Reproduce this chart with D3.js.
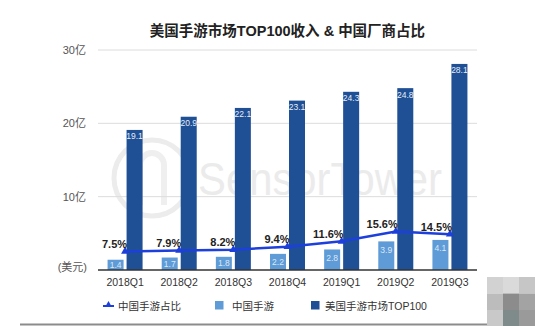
<!DOCTYPE html>
<html>
<head>
<meta charset="utf-8">
<script src="https://cdn.jsdelivr.net/npm/d3@7"></script>
<style>
  html, body { margin: 0; padding: 0; background: #fff; }
  svg { display: block; font-family: "Liberation Sans", "Noto Sans CJK SC", sans-serif; }
</style>
</head>
<body>
<svg id="chart" width="549" height="326"></svg>
<script>
// Quarterly data
const categories = ["2018Q1", "2018Q2", "2018Q3", "2018Q4", "2019Q1", "2019Q2", "2019Q3"];
const usTop100 = [19.1, 20.9, 22.1, 23.1, 24.3, 24.8, 28.1];   // 美国手游市场TOP100 (亿美元)
const chinaGames = [1.4, 1.7, 1.8, 2.2, 2.8, 3.9, 4.1];       // 中国手游 (亿美元)
const chinaShare = [7.5, 7.9, 8.2, 9.4, 11.6, 15.6, 14.5];     // 中国手游占比 (%)
const yTicks = [10, 20, 30];
const yTickLabels = ["10亿", "20亿", "30亿"];

const svg = d3.select("#chart");
const plotLeft = 98, plotRight = 477, plotTop = 50, plotBottom = 270;

const x = d3.scaleBand().domain(categories).range([plotLeft, plotRight]).padding(0);
const y = d3.scaleLinear().domain([0, 30]).range([plotBottom, plotTop]);
const y2 = d3.scaleLinear().domain([0, 89]).range([plotBottom, plotTop]);

const darkBlue = "#1f4f94", lightBlue = "#5f9bd6", lineBlue = "#1d3fdc";
const barW = 16, gap = 1.5;
const cx = c => x(c) + x.bandwidth() / 2;

// Watermark
const wm = svg.append("g").attr("class", "watermark");
wm.append("circle").attr("cx", 152).attr("cy", 178).attr("r", 38)
  .attr("fill", "none").attr("stroke", "#ececec").attr("stroke-width", 5);
wm.append("path").attr("d", "M140,205 L140,165 A12,12 0 1,1 164,165 L164,205")
  .attr("fill", "none").attr("stroke", "#efefef").attr("stroke-width", 6);
wm.append("text").attr("x", 198).attr("y", 195)
  .attr("font-size", 46).attr("textLength", 244).attr("lengthAdjust", "spacingAndGlyphs")
  .attr("fill", "#ebebeb").text("SensorTower");

// Title
svg.append("text").attr("x", (plotLeft + plotRight) / 2).attr("y", 36)
  .attr("text-anchor", "middle").attr("font-size", 14.5).attr("font-weight", "bold")
  .attr("fill", "#222").text("美国手游市场TOP100收入 & 中国厂商占比");

// Gridlines + tick labels
const axis = svg.append("g");
axis.selectAll("line.grid").data(yTicks).join("line").attr("class", "grid")
  .attr("x1", plotLeft).attr("x2", plotRight)
  .attr("y1", d => y(d)).attr("y2", d => y(d))
  .attr("stroke", "#dcdcdc").attr("stroke-width", 1);
axis.selectAll("text.tick").data(yTicks).join("text").attr("class", "tick")
  .attr("x", 86).attr("y", d => y(d) + 4)
  .attr("text-anchor", "end").attr("font-size", 11).attr("fill", "#555")
  .text((d, i) => yTickLabels[i]);
svg.append("text").attr("x", 87).attr("y", 271)
  .attr("text-anchor", "end").attr("font-size", 11).attr("fill", "#555").text("(美元)");

// Bars: 中国手游 (light) and 美国手游市场TOP100 (dark)
const bars = svg.append("g");
bars.selectAll("rect.cn").data(categories).join("rect").attr("class", "cn")
  .attr("x", c => cx(c) - gap - barW).attr("width", barW)
  .attr("y", (c, i) => y(chinaGames[i])).attr("height", (c, i) => plotBottom - y(chinaGames[i]))
  .attr("fill", lightBlue);
bars.selectAll("rect.us").data(categories).join("rect").attr("class", "us")
  .attr("x", c => cx(c) + gap).attr("width", barW)
  .attr("y", (c, i) => y(usTop100[i])).attr("height", (c, i) => plotBottom - y(usTop100[i]))
  .attr("fill", darkBlue);

// Bar value labels
bars.selectAll("text.cnv").data(categories).join("text").attr("class", "cnv")
  .attr("x", c => cx(c) - gap - barW / 2)
  .attr("y", (c, i) => { const t = y(chinaGames[i]); return Math.min(t + 8.5, (t + plotBottom) / 2) + 3; })
  .attr("text-anchor", "middle").attr("font-size", 8.5).attr("fill", "#dbe8f6")
  .text((c, i) => chinaGames[i].toFixed(1));
bars.selectAll("text.usv").data(categories).join("text").attr("class", "usv")
  .attr("x", c => cx(c) + gap + barW / 2)
  .attr("y", (c, i) => y(usTop100[i]) + 9.5)
  .attr("text-anchor", "middle").attr("font-size", 8.5).attr("fill", "#e6eefa")
  .text((c, i) => usTop100[i].toFixed(1));

// Baseline
svg.append("line").attr("x1", plotLeft).attr("x2", plotRight).attr("y1", plotBottom).attr("y2", plotBottom)
  .attr("stroke", "#333").attr("stroke-width", 1.5);

// Category labels
svg.selectAll("text.cat").data(categories).join("text").attr("class", "cat")
  .attr("x", c => cx(c)).attr("y", 286)
  .attr("text-anchor", "middle").attr("font-size", 10.5).attr("fill", "#333").text(c => c);

// Share line
const line = d3.line().x((d, i) => cx(categories[i])).y(d => y2(d));
svg.append("path").datum(chinaShare).attr("d", line)
  .attr("fill", "none").attr("stroke", lineBlue).attr("stroke-width", 2.5);
svg.selectAll("path.pt").data(chinaShare).join("path").attr("class", "pt")
  .attr("d", d3.symbol(d3.symbolTriangle, 28))
  .attr("transform", (d, i) => `translate(${cx(categories[i])},${y2(d)})`)
  .attr("fill", lineBlue);
svg.selectAll("text.pct").data(chinaShare).join("text").attr("class", "pct")
  .attr("x", (d, i) => cx(categories[i]) + 2).attr("y", d => y2(d) - 3.5)
  .attr("text-anchor", "end").attr("font-size", 11).attr("font-weight", "bold")
  .attr("fill", "#222").text(d => d.toFixed(1) + "%");

// Legend
const lg = svg.append("g").attr("font-size", 10.5).attr("fill", "#333");
lg.append("line").attr("x1", 103).attr("x2", 114).attr("y1", 306).attr("y2", 306)
  .attr("stroke", lineBlue).attr("stroke-width", 2);
lg.append("path").attr("d", d3.symbol(d3.symbolTriangle, 20))
  .attr("transform", "translate(108.5,305)").attr("fill", lineBlue);
lg.append("text").attr("x", 118).attr("y", 309.5).text("中国手游占比");
lg.append("rect").attr("x", 215).attr("y", 301).attr("width", 8.5).attr("height", 8.5).attr("fill", lightBlue);
lg.append("text").attr("x", 232).attr("y", 309.5).text("中国手游");
lg.append("rect").attr("x", 311).attr("y", 301).attr("width", 8.5).attr("height", 8.5).attr("fill", darkBlue);
lg.append("text").attr("x", 325).attr("y", 309.5).text("美国手游市场TOP100");

// Footer rule and pixelated corner block
svg.append("line").attr("x1", 20).attr("x2", 488).attr("y1", 324.5).attr("y2", 324.5)
  .attr("stroke", "#8c8c8c").attr("stroke-width", 2);
const mosaic = [
  ["#d2d2d2", "#dadada", "#c6c6c6"],
  ["#bcbcbc", "#8c8c8c", "#a3a3a3"],
  ["#c9c9c9", "#7f8b8b", "#9a9a9a"]
];
mosaic.forEach((row, r) => row.forEach((col, k) => {
  svg.append("rect").attr("x", 487 + k * 16).attr("y", 277 + r * 16.5)
    .attr("width", 16).attr("height", 16.5).attr("fill", col);
}));
</script>
</body>
</html>
